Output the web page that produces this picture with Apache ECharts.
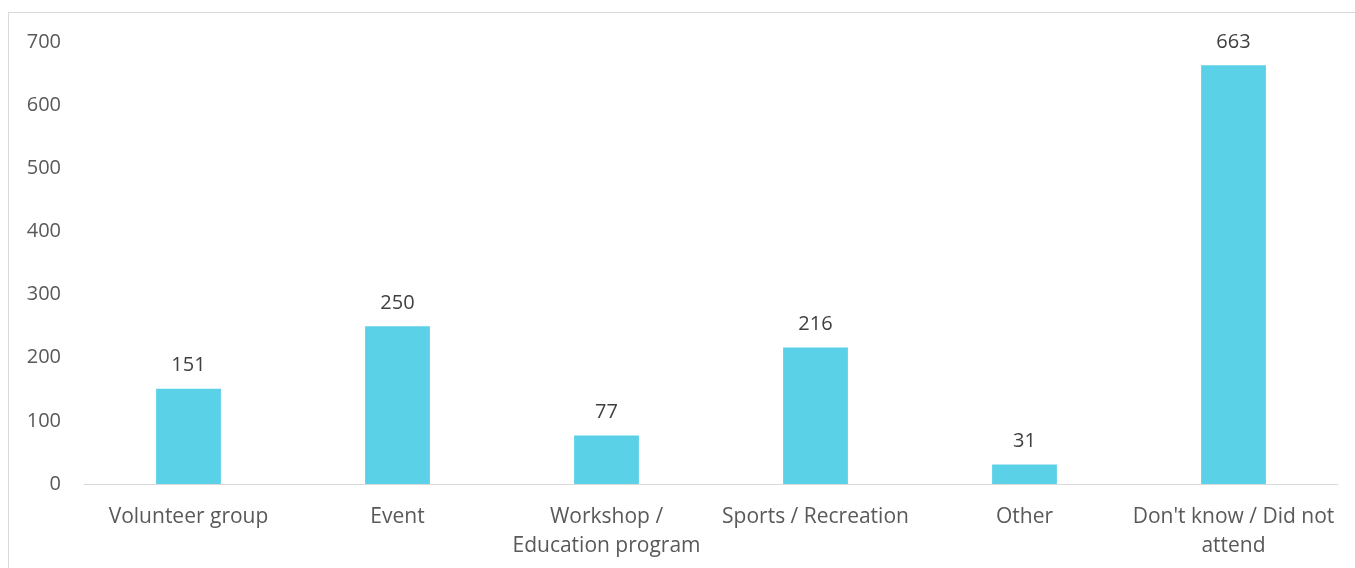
<!DOCTYPE html>
<html>
<head>
<meta charset="utf-8">
<script src="https://cdn.jsdelivr.net/npm/echarts@6/dist/echarts.min.js"></script>
<style>
  html, body { margin: 0; padding: 0; background: #fff; overflow: hidden; }
  #frame {
    position: absolute; left: 8px; top: 12px;
    width: 1400px; height: 600px;
    border: 1px solid #d9d9d9;
  }
  #chart { position: absolute; left: 0; top: 0; width: 1355px; height: 568px; }
</style>
</head>
<body>
<div id="frame"></div>
<div id="chart"></div>
<script>
// categories and counts
const categories = ['Volunteer group', 'Event', 'Workshop /\nEducation program', 'Sports / Recreation', 'Other', "Don't know / Did not\nattend"]
const counts = [151, 250, 77, 216, 31, 663]
const yTicks = { min: 0, max: 700, step: 100 }

const chart = echarts.init(document.getElementById('chart'))
const fontFamily = 'Open Sans, sans-serif'

chart.setOption({
  animation: false,
  grid: { left: 84, right: 17, top: 42, bottom: 84 },
  xAxis: {
    type: 'category',
    data: categories,
    axisLine: { lineStyle: { color: '#d9d9d9', width: 1 } },
    axisTick: { show: false },
    axisLabel: {
      interval: 0, margin: 19, color: '#595959',
      fontFamily: fontFamily, fontSize: 21, lineHeight: 29
    }
  },
  yAxis: {
    type: 'value',
    min: yTicks.min, max: yTicks.max, interval: yTicks.step,
    splitLine: { show: false },
    axisLine: { show: false },
    axisTick: { show: false },
    axisLabel: { margin: 23, color: '#595959', fontFamily: fontFamily, fontSize: 20 }
  },
  series: [{
    type: 'bar',
    data: counts,
    barWidth: '31%',
    itemStyle: { color: '#5BD1E7' },
    label: {
      show: true, position: 'top', distance: 13,
      color: '#404040', fontFamily: fontFamily, fontSize: 20
    }
  }]
})
</script>
</body>
</html>
